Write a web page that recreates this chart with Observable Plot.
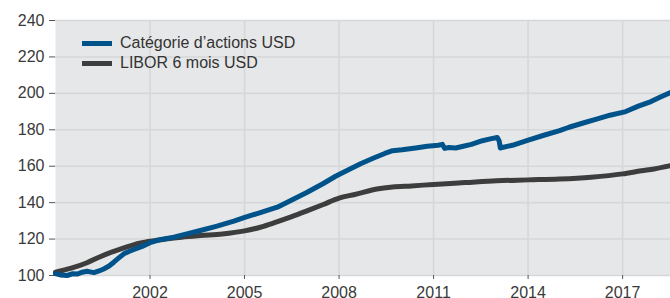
<!DOCTYPE html>
<html>
<head>
<meta charset="utf-8">
<script src="https://cdn.jsdelivr.net/npm/d3@7"></script>
<script src="https://cdn.jsdelivr.net/npm/@observablehq/plot@0.6"></script>
<style>
  html, body { margin: 0; padding: 0; background: #fff; }
  #wrap { position: relative; width: 670px; height: 298px; overflow: hidden; font-family: "Liberation Sans", Arial, sans-serif; }
  .legend { position: absolute; left: 82px; top: 33px; font-size: 16px; color: #333; line-height: 20px; }
  .legend div { display: flex; align-items: center; height: 20px; }
  .legend span.sw { display: inline-block; width: 30px; height: 5px; margin-right: 8px; }
</style>
</head>
<body>
<div id="wrap"></div>
<script>
const seriesNames = ["Catégorie d’actions USD", "LIBOR 6 mois USD"];
const seriesColors = ["#00538a", "#3d3d3d"];

const blueYears = [1999.0,1999.15,1999.37,1999.55,1999.69,1999.85,2000.0,2000.1,2000.22,2000.38,2000.53,2000.7,2000.85,2001.0,2001.17,2001.33,2001.49,2001.75,2002.0,2002.35,2002.76,2003.2,2003.6,2004.1,2004.66,2005.03,2005.5,2006.04,2006.5,2006.99,2007.5,2007.89,2008.3,2008.7,2009.1,2009.45,2009.7,2010.0,2010.43,2010.8,2011.15,2011.28,2011.35,2011.49,2011.7,2011.91,2012.2,2012.55,2012.8,2013.02,2013.08,2013.12,2013.18,2013.5,2014.03,2014.5,2015.0,2015.3,2015.8,2016.2,2016.6,2017.1,2017.5,2017.9,2018.2,2018.52];
const blueValues = [101,100.3,100,101,100.8,101.8,102.3,102,101.6,102.5,103.6,105.2,107.3,109.5,111.9,113.2,114.3,116,118,119.8,121,123,124.7,127,129.8,132,134.5,137.5,141.5,145.7,150.5,154.5,158,161.5,164.5,167,168.5,169,170,171,171.5,172,169.8,170.3,170,170.8,172,174,175,175.8,174,170,170.3,171.5,174.5,177,179.5,181.4,184,186,188,190,193,195.5,198,200.5];

const greyYears = [1999.0,1999.5,2000.0,2000.4,2000.8,2001.15,2001.5,2002.0,2002.5,2003.0,2003.6,2004.3,2005.0,2005.5,2006.0,2006.5,2007.0,2007.5,2008.0,2008.5,2009.2,2009.7,2010.3,2011.0,2012.0,2013.0,2014.0,2015.0,2016.0,2017.0,2017.6,2018.0,2018.52];
const greyValues = [101.8,104,107,110.2,113,115,117,118.8,120,121,121.9,122.8,124.5,126.5,129.3,132.3,135.6,139,142.5,144.5,147.5,148.6,149.2,150,151,152,152.5,153,154,155.8,157.5,158.5,160.3];

const xTicks = [2002, 2005, 2008, 2011, 2014, 2017];
const yTicks = [100, 120, 140, 160, 180, 200, 220, 240];

const blue = blueYears.map((x, i) => ({x, y: blueValues[i]}));
const grey = greyYears.map((x, i) => ({x, y: greyValues[i]}));

const chart = Plot.plot({
  width: 670,
  height: 298,
  marginLeft: 55,
  marginRight: 0,
  marginTop: 20,
  marginBottom: 23,
  style: {fontFamily: "Liberation Sans, Arial, sans-serif", fontSize: "16px", color: "#3a3a3a", background: "transparent"},
  x: {domain: [1999, 2018.52]},
  y: {domain: [100, 240]},
  marks: [
    Plot.frame({fill: "#e6e7e8", stroke: null}),
    Plot.gridX(xTicks, {stroke: "#d6d7d8", strokeOpacity: 1, strokeWidth: 1.6}),
    Plot.gridY(yTicks, {stroke: "#d6d7d8", strokeOpacity: 1, strokeWidth: 1.6}),
    Plot.axisY(yTicks, {tickSize: 6, tickPadding: 5, label: null, stroke: "#555", fontSize: 16}),
    Plot.axisX(xTicks, {tickSize: 4, tickPadding: 7, label: null, stroke: "#555", fontSize: 16, tickFormat: d => String(d)}),
    Plot.line(grey, {x: "x", y: "y", stroke: seriesColors[1], strokeWidth: 5, curve: "monotone-x"}),
    Plot.line(blue, {x: "x", y: "y", stroke: seriesColors[0], strokeWidth: 5, curve: "linear"})
  ]
});

const wrap = document.getElementById("wrap");
wrap.appendChild(chart);
const leg = document.createElement("div");
leg.className = "legend";
seriesNames.forEach((n, i) => {
  const row = document.createElement("div");
  const sw = document.createElement("span");
  sw.className = "sw";
  sw.style.background = seriesColors[i];
  row.appendChild(sw);
  row.appendChild(document.createTextNode(n));
  leg.appendChild(row);
});
wrap.appendChild(leg);
</script>
</body>
</html>
